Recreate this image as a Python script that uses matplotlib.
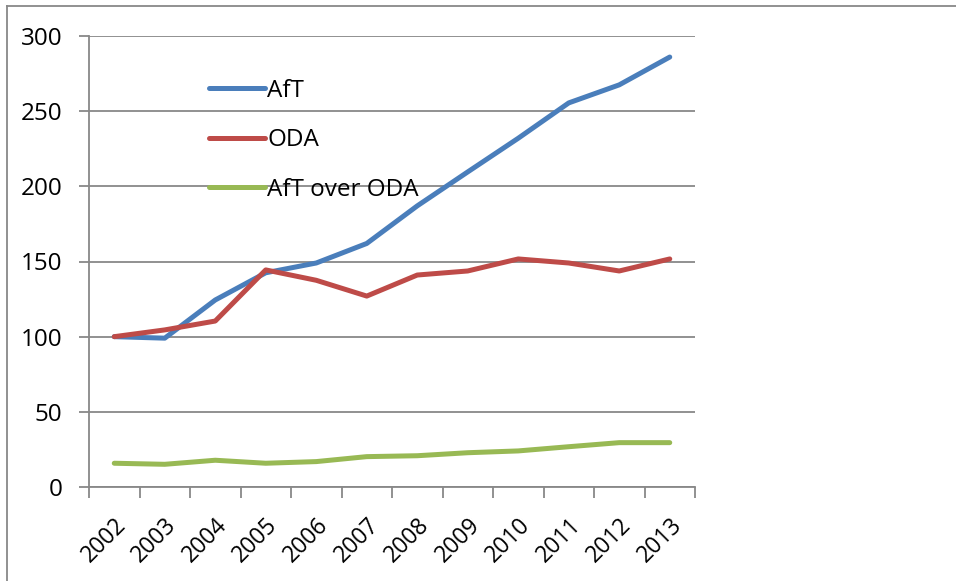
import matplotlib.pyplot as plt
from matplotlib.lines import Line2D
import numpy as np

# --- дані (індекс, 2002 = 100) ---
years = ["2002", "2003", "2004", "2005", "2006", "2007",
         "2008", "2009", "2010", "2011", "2012", "2013"]
aft = [100, 99, 124.4, 142.5, 149, 162, 187, 209.6, 232, 255.5, 267.5, 286]
oda = [100, 104.5, 110.4, 144.4, 137.5, 127, 141, 143.7, 151.7, 149, 143.7, 151.7]
aft_over_oda = [15.8, 15.1, 17.8, 15.8, 16.9, 20.2, 20.8, 22.8, 24, 26.8, 29.5, 29.5]

plt.rcParams["font.family"] = ["Open Sans", "DejaVu Sans"]
FS = 17.5

fig = plt.figure(figsize=(9.56, 5.81), dpi=100)
ax = fig.add_axes([89 / 956, 94 / 581, 606 / 956, 451 / 581])

x = np.arange(len(years))
lw = 3.6
ax.plot(x, aft, color="#4A7EBB", lw=lw, label="AfT", solid_capstyle="round")
ax.plot(x, oda, color="#BE4B48", lw=lw, label="ODA", solid_capstyle="round")
ax.plot(x, aft_over_oda, color="#98B954", lw=lw, label="AfT over ODA",
        solid_capstyle="round")

# ── осі
ax.set_xlim(-0.5, len(years) - 0.5)
ax.set_ylim(0, 300)
ax.set_yticks(np.arange(0, 301, 50))
ax.yaxis.grid(True, color="#888888", lw=1.3)
ax.set_axisbelow(True)

ax.set_xticks(np.arange(-0.5, len(years)), labels=[])
ax.set_xticks(x, labels=years, minor=True)
ax.tick_params(axis="x", which="major", length=8, width=1.3, color="#888888")
ax.tick_params(axis="x", which="minor", length=0, pad=19, labelsize=16.5)
ax.tick_params(axis="y", length=7, width=1.3, color="#888888", labelsize=FS, pad=12)
for lbl in ax.get_xticklabels(minor=True):
    lbl.set_rotation(45)
    lbl.set_ha("right")
    lbl.set_va("top")
    lbl.set_rotation_mode("anchor")

for side in ("top", "right"):
    ax.spines[side].set_visible(False)
for side in ("left", "bottom"):
    ax.spines[side].set_color("#888888")
    ax.spines[side].set_linewidth(1.3)

ax.legend(loc="upper left", bbox_to_anchor=(0.198, 0.905), frameon=False,
          fontsize=FS, handlelength=2.3, handletextpad=0.1,
          labelspacing=1.05, borderpad=0, borderaxespad=0)

# ── рамка діаграми (ліва та верхня лінії)
fig.add_artist(Line2D([7 / 956, 7 / 956], [0, 1 - 6 / 581], color="#888888", lw=1.3))
fig.add_artist(Line2D([7 / 956, 1], [1 - 6 / 581, 1 - 6 / 581], color="#888888", lw=1.3))

fig.savefig("out.png", dpi=100)
